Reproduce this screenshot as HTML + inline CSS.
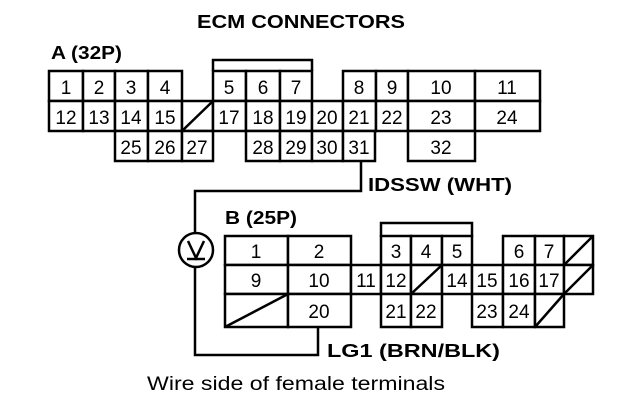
<!DOCTYPE html>
<html><head><meta charset="utf-8"><style>
html,body{margin:0;padding:0;background:#fff}
svg{display:block}
.c{fill:#fff;stroke:#000;stroke-width:2.5}
.t{font-family:"Liberation Sans",sans-serif;font-size:19px;text-anchor:middle;fill:#000}
.b{font-family:"Liberation Sans",sans-serif;font-weight:bold;fill:#000}
.l{stroke:#000;stroke-width:2.5;fill:none}
</style></head><body>
<svg width="624" height="414" viewBox="0 0 624 414">
<text class="b" x="197" y="28" font-size="18" textLength="208" lengthAdjust="spacingAndGlyphs">ECM CONNECTORS</text>
<text class="b" x="51" y="59" font-size="18" textLength="71" lengthAdjust="spacingAndGlyphs">A (32P)</text>

<polyline class="l" points="213,71 213,60 312,60 312,71" stroke-width="3"/>
<g>
<rect class="c" x="49" y="71" width="34" height="30"/><text class="t" x="66" y="94">1</text>
<rect class="c" x="83" y="71" width="32" height="30"/><text class="t" x="99" y="94">2</text>
<rect class="c" x="115" y="71" width="33" height="30"/><text class="t" x="131" y="94">3</text>
<rect class="c" x="148" y="71" width="34" height="30"/><text class="t" x="165" y="94">4</text>
<rect class="c" x="213" y="71" width="33" height="30"/><text class="t" x="229" y="94">5</text>
<rect class="c" x="246" y="71" width="34" height="30"/><text class="t" x="263" y="94">6</text>
<rect class="c" x="280" y="71" width="32" height="30"/><text class="t" x="296" y="94">7</text>
<rect class="c" x="343" y="71" width="33" height="30"/><text class="t" x="359" y="94">8</text>
<rect class="c" x="376" y="71" width="32" height="30"/><text class="t" x="392" y="94">9</text>
<rect class="c" x="408" y="71" width="67" height="30"/><text class="t" x="441" y="94">10</text>
<rect class="c" x="475" y="71" width="65" height="30"/><text class="t" x="507" y="94">11</text>
</g>
<g>
<rect class="c" x="49" y="101" width="34" height="30"/><text class="t" x="66" y="124">12</text>
<rect class="c" x="83" y="101" width="32" height="30"/><text class="t" x="99" y="124">13</text>
<rect class="c" x="115" y="101" width="33" height="30"/><text class="t" x="131" y="124">14</text>
<rect class="c" x="148" y="101" width="34" height="30"/><text class="t" x="165" y="124">15</text>
<rect class="c" x="182" y="101" width="31" height="30"/><line class="l" x1="182" y1="131" x2="213" y2="101"/>
<rect class="c" x="213" y="101" width="33" height="30"/><text class="t" x="229" y="124">17</text>
<rect class="c" x="246" y="101" width="34" height="30"/><text class="t" x="263" y="124">18</text>
<rect class="c" x="280" y="101" width="32" height="30"/><text class="t" x="296" y="124">19</text>
<rect class="c" x="312" y="101" width="31" height="30"/><text class="t" x="327" y="124">20</text>
<rect class="c" x="343" y="101" width="33" height="30"/><text class="t" x="359" y="124">21</text>
<rect class="c" x="376" y="101" width="32" height="30"/><text class="t" x="392" y="124">22</text>
<rect class="c" x="408" y="101" width="67" height="30"/><text class="t" x="441" y="124">23</text>
<rect class="c" x="475" y="101" width="65" height="30"/><text class="t" x="507" y="124">24</text>
</g>
<g>
<rect class="c" x="115" y="131" width="33" height="30"/><text class="t" x="131" y="154">25</text>
<rect class="c" x="148" y="131" width="34" height="30"/><text class="t" x="165" y="154">26</text>
<rect class="c" x="182" y="131" width="31" height="30"/><text class="t" x="197" y="154">27</text>
<rect class="c" x="246" y="131" width="34" height="30"/><text class="t" x="263" y="154">28</text>
<rect class="c" x="280" y="131" width="32" height="30"/><text class="t" x="296" y="154">29</text>
<rect class="c" x="312" y="131" width="31" height="30"/><text class="t" x="327" y="154">30</text>
<rect class="c" x="343" y="131" width="32" height="30"/><text class="t" x="359" y="154">31</text>
<rect class="c" x="408" y="131" width="67" height="30"/><text class="t" x="441" y="154">32</text>
</g>

<polyline class="l" points="361,161 361,191 195,191 195,232" stroke-width="2"/>
<circle cx="196" cy="250" r="17" class="l" stroke-width="2"/>
<polyline class="l" points="188,241 196,258 204,241" stroke-width="2"/>
<line class="l" x1="187" y1="259" x2="205" y2="259" stroke-width="2"/>
<polyline class="l" points="195,267 195,355 318,355 318,327" stroke-width="2"/>
<text class="b" x="368" y="191" font-size="18" textLength="144" lengthAdjust="spacingAndGlyphs">IDSSW (WHT)</text>

<text class="b" x="225" y="224" font-size="18" textLength="72" lengthAdjust="spacingAndGlyphs">B (25P)</text>
<polyline class="l" points="381,237 381,223 472,223 472,237" stroke-width="3"/>
<rect class="c" x="225" y="236" width="63" height="29"/><text class="t" x="256" y="258">1</text>
<rect class="c" x="288" y="236" width="63" height="29"/><text class="t" x="319" y="258">2</text>
<rect class="c" x="381" y="236" width="30" height="29"/><text class="t" x="396" y="258">3</text>
<rect class="c" x="411" y="236" width="31" height="29"/><text class="t" x="426" y="258">4</text>
<rect class="c" x="442" y="236" width="30" height="29"/><text class="t" x="457" y="258">5</text>
<rect class="c" x="503" y="236" width="32" height="29"/><text class="t" x="519" y="258">6</text>
<rect class="c" x="535" y="236" width="29" height="29"/><text class="t" x="549" y="258">7</text>
<rect class="c" x="564" y="236" width="29" height="29"/><line class="l" x1="564" y1="265" x2="593" y2="236"/>
<rect class="c" x="225" y="265" width="63" height="29"/><text class="t" x="256" y="287">9</text>
<rect class="c" x="288" y="265" width="63" height="29"/><text class="t" x="319" y="287">10</text>
<rect class="c" x="351" y="265" width="30" height="29"/><text class="t" x="366" y="287">11</text>
<rect class="c" x="381" y="265" width="30" height="29"/><text class="t" x="396" y="287">12</text>
<rect class="c" x="411" y="265" width="31" height="29"/><line class="l" x1="411" y1="294" x2="442" y2="265"/>
<rect class="c" x="442" y="265" width="30" height="29"/><text class="t" x="457" y="287">14</text>
<rect class="c" x="472" y="265" width="31" height="29"/><text class="t" x="487" y="287">15</text>
<rect class="c" x="503" y="265" width="32" height="29"/><text class="t" x="519" y="287">16</text>
<rect class="c" x="535" y="265" width="29" height="29"/><text class="t" x="549" y="287">17</text>
<rect class="c" x="564" y="265" width="29" height="29"/><line class="l" x1="564" y1="294" x2="593" y2="265"/>
<rect class="c" x="225" y="294" width="63" height="33"/><line class="l" x1="225" y1="327" x2="288" y2="294"/>
<rect class="c" x="288" y="294" width="63" height="33"/><text class="t" x="319" y="318">20</text>
<rect class="c" x="381" y="294" width="30" height="33"/><text class="t" x="396" y="318">21</text>
<rect class="c" x="411" y="294" width="31" height="33"/><text class="t" x="426" y="318">22</text>
<rect class="c" x="472" y="294" width="31" height="33"/><text class="t" x="487" y="318">23</text>
<rect class="c" x="503" y="294" width="32" height="33"/><text class="t" x="519" y="318">24</text>
<rect class="c" x="535" y="294" width="29" height="33"/><line class="l" x1="535" y1="327" x2="564" y2="294"/>

<text class="b" x="327" y="357" font-size="18" textLength="173" lengthAdjust="spacingAndGlyphs">LG1 (BRN/BLK)</text>
<text x="147" y="390" font-family="Liberation Sans, sans-serif" font-size="19" textLength="298" lengthAdjust="spacingAndGlyphs">Wire side of female terminals</text>
</svg>
</body></html>
